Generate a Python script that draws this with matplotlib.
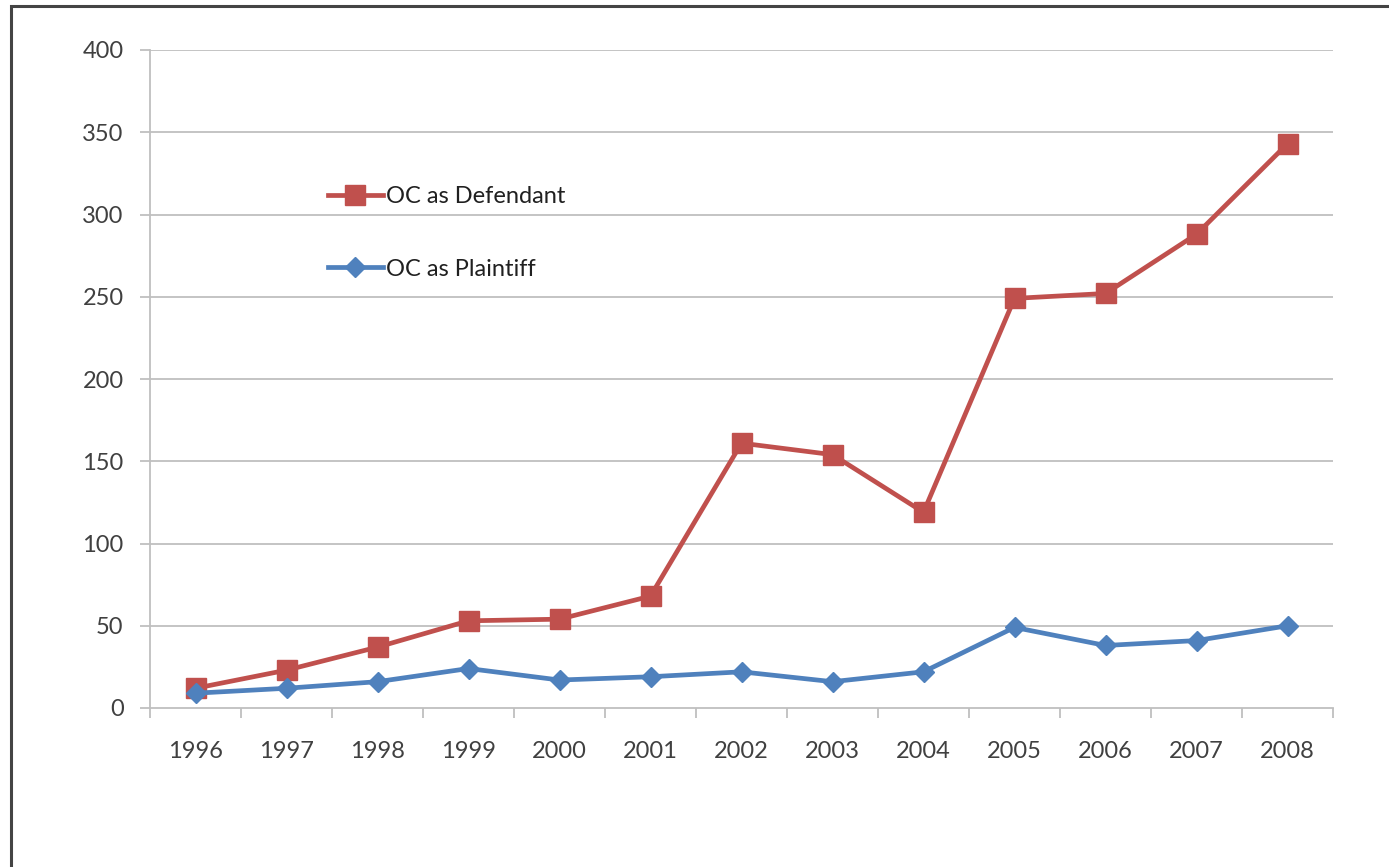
import numpy as np
import matplotlib.pyplot as plt
from matplotlib.patches import Rectangle

years = ['1996', '1997', '1998', '1999', '2000', '2001', '2002',
         '2003', '2004', '2005', '2006', '2007', '2008']
defendant = [12, 23, 37, 53, 54, 68, 161, 154, 119, 249, 252, 288, 343]
plaintiff = [9, 12, 16, 24, 17, 19, 22, 16, 22, 49, 38, 41, 50]
y_ticks = [0, 50, 100, 150, 200, 250, 300, 350, 400]

plt.rcParams['font.family'] = ['Lato', 'DejaVu Sans']

fig = plt.figure(figsize=(13.89, 8.67), dpi=100)
ax = fig.add_axes([150 / 1389, 1 - 708 / 867, 1183 / 1389, 658 / 867])

# outer frame, cut off at right and bottom like the screenshot
fig.patches.append(Rectangle((11 / 1389, -0.2), 1.2, 1.2 - 6 / 867,
                             transform=fig.transFigure, fill=False,
                             edgecolor='#444444', linewidth=2.2))

x = np.arange(len(years))
grid_col = '#bfbfbf'

for v in y_ticks[1:]:
    ax.axhline(v, color=grid_col, linewidth=1.3, zorder=1)

ax.plot(x, defendant, color='#c0504d', linewidth=3.4, marker='s',
        markersize=14, label='OC as Defendant', zorder=3)
ax.plot(x, plaintiff, color='#4f81bd', linewidth=3.4, marker='D',
        markersize=10.5, label='OC as Plaintiff', zorder=4)

ax.set_xlim(-0.5, len(years) - 0.5)
ax.set_ylim(0, 400)
ax.set_yticks(y_ticks)
ax.set_xticks(x)
ax.set_xticklabels(years)
ax.set_xticks(np.arange(-0.5, len(years)), minor=True)

for s in ['top', 'right']:
    ax.spines[s].set_visible(False)
for s in ['left', 'bottom']:
    ax.spines[s].set_color(grid_col)
    ax.spines[s].set_linewidth(1.3)

ax.tick_params(axis='x', which='major', length=0, pad=24,
               labelsize=17, labelcolor='#404040')
ax.tick_params(axis='x', which='minor', length=7, width=1.3,
               color=grid_col, direction='out')
ax.tick_params(axis='y', length=7, width=1.3, color=grid_col,
               labelsize=17, labelcolor='#404040', pad=12)

leg = ax.legend(loc='upper left', bbox_to_anchor=(0.1403, 0.811),
                frameon=False, fontsize=17, handlelength=2.33,
                handletextpad=0.13, labelspacing=2.18, borderpad=0)
for t in leg.get_texts():
    t.set_color('#202020')

fig.savefig('out.png', dpi=100, facecolor='white')
